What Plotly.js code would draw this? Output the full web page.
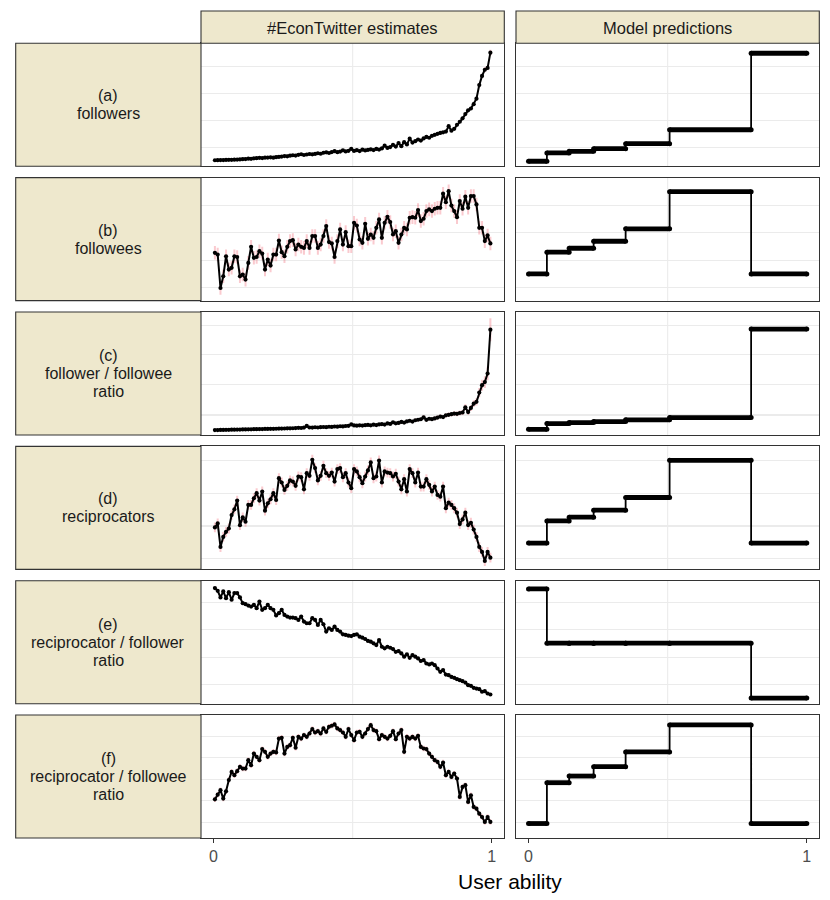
<!DOCTYPE html>
<html>
<head>
<meta charset="utf-8">
<script src="https://cdn.plot.ly/plotly-3.0.1.min.js"></script>
<style>
  body { margin: 0; background: #fff; }
  #chart { width: 830px; height: 900px; }
</style>
</head>
<body>
<div id="chart"></div>
<script>
// percentile bins of user ability (x of the estimate panels)
const abilityBins = [
    0.005, 0.015, 0.025, 0.035, 0.045, 0.055, 0.065, 0.075, 0.085, 0.095,
    0.105, 0.115, 0.125, 0.135, 0.145, 0.155, 0.165, 0.175, 0.185, 0.195,
    0.205, 0.215, 0.225, 0.235, 0.245, 0.255, 0.265, 0.275, 0.285, 0.295,
    0.305, 0.315, 0.325, 0.335, 0.345, 0.355, 0.365, 0.375, 0.385, 0.395,
    0.405, 0.415, 0.425, 0.435, 0.445, 0.455, 0.465, 0.475, 0.485, 0.495,
    0.505, 0.515, 0.525, 0.535, 0.545, 0.555, 0.565, 0.575, 0.585, 0.595,
    0.605, 0.615, 0.625, 0.635, 0.645, 0.655, 0.665, 0.675, 0.685, 0.695,
    0.705, 0.715, 0.725, 0.735, 0.745, 0.755, 0.765, 0.775, 0.785, 0.795,
    0.805, 0.815, 0.825, 0.835, 0.845, 0.855, 0.865, 0.875, 0.885, 0.895,
    0.905, 0.915, 0.925, 0.935, 0.945, 0.955, 0.965, 0.975, 0.985, 0.995
];

const columnTitles = ["#EconTwitter estimates", "Model predictions"];
const rowLabels = [
    ["(a)", "followers"],
    ["(b)", "followees"],
    ["(c)", "follower / followee", "ratio"],
    ["(d)", "reciprocators"],
    ["(e)", "reciprocator / follower", "ratio"],
    ["(f)", "reciprocator / followee", "ratio"]
];
const xTickVals = [0, 1];
const xTickText = ["0", "1"];
const xTitle = "User ability";

// #EconTwitter estimates (relative units)
const followersEst = [
    4.9, 5.0, 5.1, 5.1, 5.2, 5.3, 5.3, 5.4, 5.5, 5.6,
    5.8, 5.9, 6.2, 6.1, 6.5, 6.6, 6.9, 6.7, 7.0, 7.1,
    7.3, 7.0, 7.4, 7.6, 7.9, 8.3, 8.1, 8.6, 9.0, 8.7,
    9.3, 9.8, 9.2, 9.6, 10.0, 9.7, 10.1, 10.6, 10.2, 11.0,
    11.4, 10.8, 11.6, 12.3, 11.5, 12.0, 13.0, 12.1, 12.6, 14.2,
    12.5, 13.1, 12.4, 13.5, 12.9, 13.3, 13.8, 13.2, 14.1, 13.6,
    14.5, 16.8, 14.9, 15.6, 17.5, 16.0, 18.9, 16.4, 19.6, 17.8,
    22.5, 19.3, 20.4, 21.8, 20.9, 22.7, 23.9, 23.2, 24.8, 25.6,
    26.4, 27.1, 27.6, 28.2, 32.6, 29.0, 30.5, 33.8, 36.2, 39.0,
    42.5, 45.5, 47.0, 50.5, 55.0, 66.0, 73.5, 78.5, 80.0, 92.4
];
const followeesEst = [
    38.9, 37.5, 10.3, 19.8, 36.1, 25.3, 26.7, 36.1, 35.5, 19.8,
    21.2, 17.1, 30.7, 43.8, 34.8, 35.5, 40.2, 38.3, 25.3, 33.4,
    28.5, 37.5, 37.5, 48.9, 39.4, 36.1, 43.8, 48.4, 49.2, 41.6,
    45.6, 43.8, 42.9, 48.4, 42.9, 52.5, 52.5, 42.9, 45.6, 52.5,
    60.6, 47.6, 46.5, 35.5, 48.4, 57.9, 45.6, 55.7, 44.3, 44.3,
    63.3, 61.1, 49.7, 47.0, 62.5, 50.3, 53.8, 51.1, 59.2, 66.0,
    51.1, 63.3, 68.2, 63.9, 53.8, 56.5, 47.0, 53.8, 59.2, 57.9,
    67.4, 67.9, 67.4, 73.6, 64.7, 66.6, 72.8, 74.2, 72.8, 74.7,
    75.5, 75.5, 87.0, 80.0, 89.0, 77.3, 72.8, 67.9, 81.0, 74.7,
    84.5, 75.5, 85.0, 85.0, 78.2, 59.2, 59.2, 48.4, 53.0, 46.5
];
const ratioEst = [
    4.0, 4.0, 4.1, 4.1, 4.2, 4.2, 4.3, 4.3, 4.4, 4.4,
    4.5, 4.5, 4.6, 4.6, 4.7, 4.7, 4.8, 4.8, 4.9, 4.9,
    5.0, 5.0, 5.1, 5.2, 5.2, 5.3, 5.4, 5.4, 5.5, 5.6,
    5.8, 5.7, 6.0, 7.4, 6.1, 6.0, 6.3, 6.1, 6.4, 6.5,
    6.4, 6.7, 6.6, 6.9, 6.8, 7.1, 7.0, 7.3, 7.5, 8.6,
    7.8, 7.6, 7.9, 7.7, 8.0, 8.2, 7.9, 8.4, 8.1, 8.6,
    8.9, 8.5, 9.4, 9.0, 10.3, 9.5, 9.8, 10.6, 10.1, 11.0,
    11.6, 10.9, 12.0, 12.4, 12.8, 14.4, 12.3, 13.2, 12.9, 13.5,
    14.2, 15.0, 14.6, 16.0, 16.4, 16.9, 17.4, 17.2, 17.9, 18.3,
    22.5, 18.6, 22.0, 25.5, 27.0, 34.5, 40.5, 43.0, 50.0, 85.6
];
const recipEst = [
    34.1, 37.3, 18.2, 26.4, 30.5, 33.2, 44.1, 48.8, 55.9, 35.9,
    42.2, 38.7, 52.4, 52.4, 57.8, 61.9, 55.9, 63.3, 47.7, 53.7,
    57.0, 61.9, 56.4, 74.1, 70.6, 64.6, 67.9, 72.3, 71.4, 67.9,
    75.5, 74.9, 65.1, 78.2, 76.0, 89.1, 82.3, 72.3, 76.0, 84.2,
    78.2, 76.0, 78.7, 71.4, 81.5, 82.3, 74.9, 78.2, 70.6, 66.0,
    81.5, 79.6, 74.9, 70.0, 75.5, 80.4, 86.9, 74.1, 75.5, 88.5,
    70.6, 79.6, 78.7, 78.2, 75.5, 77.7, 71.4, 65.1, 73.3, 63.3,
    81.5, 78.2, 70.6, 78.7, 67.3, 67.3, 73.3, 68.7, 63.3, 67.3,
    60.5, 59.1, 67.3, 49.7, 54.3, 52.4, 49.7, 46.1, 36.8, 40.6,
    46.1, 36.0, 37.9, 32.4, 26.4, 18.2, 14.2, 6.8, 14.2, 9.5
];
const recipFollowerEst = [
    94.0, 91.8, 86.4, 91.3, 85.8, 90.7, 84.5, 89.9, 89.9, 86.4,
    81.7, 80.9, 79.8, 79.0, 80.4, 77.7, 83.1, 76.3, 77.7, 80.4,
    77.7, 76.3, 71.7, 73.6, 76.3, 72.2, 70.8, 70.0, 70.0, 69.5,
    68.1, 70.8, 66.8, 65.4, 65.4, 69.5, 68.1, 64.0, 68.1, 64.6,
    58.6, 61.3, 60.0, 62.7, 60.0, 58.6, 56.4, 55.9, 55.3, 55.0,
    55.9, 56.4, 54.5, 53.7, 52.6, 51.0, 50.4, 49.1, 47.7, 51.8,
    46.3, 45.0, 46.3, 45.5, 44.4, 42.2, 42.8, 40.9, 38.2, 40.1,
    37.3, 39.5, 38.2, 36.8, 34.7, 35.5, 32.7, 31.9, 32.7, 31.3,
    28.6, 25.9, 27.3, 23.7, 23.2, 21.8, 21.0, 19.9, 19.1, 18.3,
    17.2, 15.1, 14.5, 12.9, 12.3, 11.8, 9.7, 10.2, 8.3, 7.5
];
const recipFolloweeEst = [
    31.5, 35.3, 38.9, 32.1, 38.0, 47.2, 53.8, 51.1, 54.4, 57.9,
    56.5, 56.5, 63.3, 59.2, 68.7, 66.0, 63.3, 72.3, 70.1, 66.0,
    68.7, 70.1, 69.6, 80.9, 81.5, 68.7, 74.1, 75.5, 81.5, 73.4,
    82.3, 80.9, 83.7, 82.3, 85.0, 88.6, 85.8, 86.9, 85.0, 89.1,
    86.4, 90.5, 91.3, 92.4, 89.1, 87.8, 85.8, 82.3, 88.6, 83.7,
    79.6, 85.8, 86.4, 82.3, 85.0, 88.6, 91.8, 87.8, 86.9, 80.4,
    83.7, 82.3, 80.9, 83.1, 86.9, 80.4, 85.0, 87.8, 70.1, 82.3,
    80.9, 82.3, 80.9, 83.1, 74.1, 72.8, 72.3, 68.7, 66.0, 63.3,
    61.9, 57.9, 61.4, 51.1, 53.8, 49.7, 52.4, 48.4, 33.4, 41.6,
    43.0, 29.4, 34.8, 25.3, 23.9, 19.8, 17.1, 13.1, 17.1, 13.1
];

// standard errors around the estimates
const estErrType = ["percent", "constant", "percent", "constant", "constant", "constant"];
const estErrValue = [2.5, 5.5, 11, 4, 1.2, 2.2];

// Model predictions: step levels between ability thresholds
const modelBreaks = [0, 0.066, 0.146, 0.234, 0.349, 0.507, 0.80, 1.0];
const followersModel = [4.1, 10.9, 12.2, 14.3, 18.4, 29.7, 91.9];
const followeesModel = [21.7, 39.4, 42.6, 48.3, 58.4, 88.6, 21.7];
const ratioModel = [4.6, 9.3, 10.1, 10.9, 12.3, 14.2, 86.1];
const recipModel = [21.4, 39.4, 42.4, 48.1, 58.4, 88.6, 21.4];
const recipFollowerModel = [93.3, 49.2, 49.2, 49.2, 49.2, 49.2, 4.6];
const recipFolloweeModel = [11.8, 45.0, 50.4, 58.0, 70.0, 92.0, 11.8];

const estimates = [followersEst, followeesEst, ratioEst, recipEst, recipFollowerEst, recipFolloweeEst];
const models = [followersModel, followeesModel, ratioModel, recipModel, recipFollowerModel, recipFolloweeModel];

// ---- layout geometry (pixels) ----
const W = 830, H = 900;
const colX = [[201, 504.3], [516, 819.3]];
const labelX = [15.7, 201];
const rowTop0 = 43.3, rowPitch = 134.35, rowH = 123;
const stripTop = 11;
const rowGrid = [
    [15, 37, 59, 81],
    [10.4, 32.6, 55.2, 77.4],
    [16.3, 40.7, 65.2, 89],
    [8.7, 35.2, 61.9, 88.6],
    [15.5, 37.6, 60, 82.3],
    [12.6, 30.2, 47.9, 65.5, 82.9]
];

const FONT = "Liberation Sans, Arial, sans-serif";
const STRIP_FILL = "#EEE8CD";
const BORDER = "#333333";
const GRID = "#EBEBEB";

const fx = px => px / W;
const fy = py => 1 - py / H;

const data = [];
const layout = {
    width: W,
    height: H,
    margin: {l: 0, r: 0, t: 0, b: 0},
    paper_bgcolor: "#FFF",
    plot_bgcolor: "#FFF",
    showlegend: false,
    font: {family: FONT, color: "#1A1A1A"},
    shapes: [],
    annotations: []
};

const stripBox = (x0, y0, x1, y1) => ({
    type: "rect", xref: "paper", yref: "paper",
    x0: fx(x0), x1: fx(x1), y0: fy(y1), y1: fy(y0),
    fillcolor: STRIP_FILL, line: {color: BORDER, width: 1.1}, layer: "above"
});

const stripText = (text, x, y, size) => ({
    text: text, xref: "paper", yref: "paper", x: fx(x), y: fy(y),
    xanchor: "center", yanchor: "middle", showarrow: false,
    font: {family: FONT, size: size, color: "#1A1A1A"}
});

// column headers
columnTitles.forEach((t, c) => {
    layout.shapes.push(stripBox(colX[c][0], stripTop, colX[c][1], rowTop0));
    layout.annotations.push(stripText(t, (colX[c][0] + colX[c][1]) / 2, (stripTop + rowTop0) / 2 + 0.5, 16.5));
});

rowLabels.forEach((lines, r) => {
    const top = rowTop0 + r * rowPitch;
    const bottom = top + rowH;
    const mid = (top + bottom) / 2;

    // row label box
    layout.shapes.push(stripBox(labelX[0], top, labelX[1], bottom));
    lines.forEach((ln, k) => {
        const y = mid + (k - (lines.length - 1) / 2) * 18;
        layout.annotations.push(stripText(ln, (labelX[0] + labelX[1]) / 2, y, 16));
    });

    for (let c = 0; c < 2; c++) {
        const n = r * 2 + c + 1;
        const sfx = n === 1 ? "" : String(n);
        const isBottom = r === rowLabels.length - 1;

        layout["xaxis" + sfx] = {
            domain: [fx(colX[c][0]), fx(colX[c][1])],
            anchor: "y" + sfx,
            range: [-0.045, 1.045],
            showgrid: false,
            zeroline: false,
            showline: true, mirror: true, linecolor: BORDER, linewidth: 1.1,
            tickvals: xTickVals, ticktext: xTickText,
            ticks: isBottom ? "outside" : "", ticklen: 4, tickwidth: 1, tickcolor: BORDER,
            showticklabels: isBottom,
            tickfont: {family: FONT, size: 16, color: "#4D4D4D"}
        };
        layout["yaxis" + sfx] = {
            domain: [fy(bottom), fy(top)],
            anchor: "x" + sfx,
            range: [0, 100],
            tickvals: rowGrid[r],
            showticklabels: false, ticks: "",
            showgrid: true, gridcolor: GRID, gridwidth: 1.1,
            zeroline: false,
            showline: true, mirror: true, linecolor: BORDER, linewidth: 1.1
        };

        // minor vertical grid line at 0.5
        layout.shapes.push({
            type: "line", xref: "x" + sfx, yref: "y" + sfx + " domain",
            x0: 0.5, x1: 0.5, y0: 0, y1: 1,
            line: {color: GRID, width: 1.1}, layer: "below"
        });

        if (c === 0) {
            data.push({
                type: "scatter", mode: "lines+markers",
                x: abilityBins, y: estimates[r],
                xaxis: "x" + sfx, yaxis: "y" + sfx,
                line: {color: "#000", width: 2},
                marker: {color: "#000", size: 4.2},
                error_y: {
                    type: estErrType[r], value: estErrValue[r], visible: true,
                    color: "rgba(240,80,95,0.3)", thickness: 2, width: 0
                },
                hoverinfo: "skip"
            });
        } else {
            const lv = models[r];
            // thin connecting step line
            data.push({
                type: "scatter", mode: "lines",
                x: modelBreaks, y: lv.concat([lv[lv.length - 1]]),
                xaxis: "x" + sfx, yaxis: "y" + sfx,
                line: {color: "#000", width: 1.8, shape: "hv"},
                hoverinfo: "skip"
            });
            // thick horizontal segments
            const sx = [], sy = [];
            lv.forEach((v, k) => {
                sx.push(modelBreaks[k], modelBreaks[k + 1], null);
                sy.push(v, v, null);
            });
            data.push({
                type: "scatter", mode: "lines+markers",
                x: sx, y: sy,
                xaxis: "x" + sfx, yaxis: "y" + sfx,
                line: {color: "#000", width: 4.8},
                marker: {color: "#000", size: 5},
                hoverinfo: "skip"
            });
        }
    }
});

layout.annotations.push({
    text: xTitle, xref: "paper", yref: "paper",
    x: fx((colX[0][0] + colX[1][1]) / 2), y: fy(881),
    xanchor: "center", yanchor: "middle", showarrow: false,
    font: {family: FONT, size: 21, color: "#000"}
});

Plotly.newPlot("chart", data, layout, {staticPlot: true, displayModeBar: false});
</script>
</body>
</html>
